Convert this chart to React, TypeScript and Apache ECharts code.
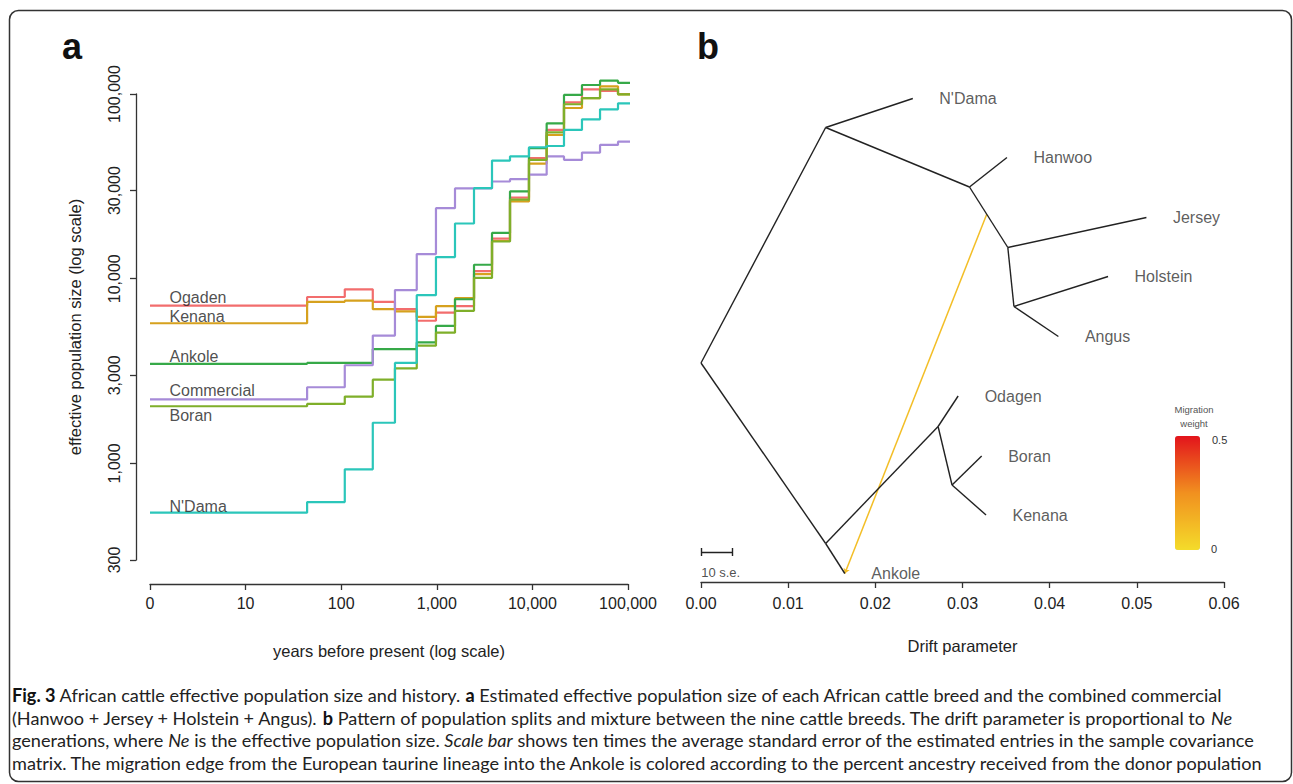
import React, { useEffect, useRef } from "react";
import * as echarts from "echarts";

const W = 1293;
const H = 784;
const FONT = "Liberation Sans, Arial, Helvetica, sans-serif";
const CAP_FONT = "Lato, 'Noto Sans', sans-serif";

// ---------- Panel a : effective population size ----------
// interval boundaries (years before present)
const yearBreaks = [0, 44, 109, 214, 365, 617, 980, 1550, 2450, 3780, 5830, 9210, 14100, 21400, 33000, 51000, 78600, 112000];
const breedNames = ["Ogaden", "Kenana", "Ankole", "Commercial", "Boran", "N'Dama"];
const ogadenNe = [7150, 7960, 8760, 7500, 6840, 5920, 6560, 7100, 11000, 16500, 27500, 45000, 64000, 90000, 106000, 104000, 100000];
const kenanaNe = [5740, 7500, 7600, 6840, 6650, 6210, 7100, 7850, 10600, 16000, 26200, 42000, 60000, 84000, 95000, 110000, 99600];
const ankoleNe = [3460, 3500, 3500, 4160, 4160, 4520, 5550, 7740, 11900, 17700, 29700, 50900, 69300, 98800, 111900, 118000, 115000];
const commercialNe = [2220, 2585, 3400, 4920, 8680, 13600, 24100, 30800, 30800, 33600, 34600, 36600, 45900, 44000, 48200, 53000, 55200];
const boranNe = [2040, 2100, 2300, 2840, 3270, 4340, 5100, 6700, 10100, 15900, 26800, 44000, 62000, 88000, 95000, 106000, 99600];
const ndamaNe = [541, 618, 929, 1660, 3500, 8140, 13100, 19900, 30900, 43600, 45900, 51500, 52300, 63900, 72900, 82600, 89000];
const breedValues = [ogadenNe, kenanaNe, ankoleNe, commercialNe, boranNe, ndamaNe];
const breedColors = ["#F26D6D", "#D6A11E", "#36A948", "#A68BD8", "#7FAF2A", "#2BC6BA"];
const breedLabelDy = [-8, -7, -7, -9, 9, -6];

const xTickValues = [1, 10, 100, 1000, 10000, 100000];
const xTickLabels = ["0", "10", "100", "1,000", "10,000", "100,000"];
const yTickValues = [300, 1000, 3000, 10000, 30000, 100000];
const yTickLabels = ["300", "1,000", "3,000", "10,000", "30,000", "100,000"];

// ---------- Panel b : population tree ----------
const nodeNames = ["root", "nA", "N'Dama", "nB", "Hanwoo", "nC", "Jersey", "nD", "Holstein", "Angus", "nE", "Ankole", "nF", "Odagen", "nG", "Boran", "Kenana"];
const nodeDrift = [0.0, 0.0143, 0.0243, 0.0308, 0.0351, 0.0352, 0.0511, 0.0359, 0.0467, 0.041, 0.0143, 0.0165, 0.0272, 0.0295, 0.0288, 0.0322, 0.0327];
const nodePos = [4.38, 9.09, 9.67, 7.9, 8.49, 6.69, 7.29, 5.51, 6.11, 4.91, 0.77, 0.17, 3.11, 3.72, 1.94, 2.52, 1.34];
const edgeParent = ["root", "nA", "nA", "nB", "nB", "nC", "nC", "nD", "nD", "root", "nE", "nE", "nF", "nF", "nG", "nG"];
const edgeChild = ["nA", "N'Dama", "nB", "Hanwoo", "nC", "Jersey", "nD", "Holstein", "Angus", "nE", "Ankole", "nF", "Odagen", "nG", "Boran", "Kenana"];
const tipNames = ["N'Dama", "Hanwoo", "Jersey", "Holstein", "Angus", "Odagen", "Boran", "Kenana", "Ankole"];
// migration edge: from a point on edge nB -> nC (fraction along edge) into Ankole
const migrationFromEdge = ["nB", "nC"];
const migrationFraction = 0.45;
const migrationTo = "Ankole";
const migrationWeight = 0.1;
const migrationMax = 0.5;
const migrationColors = ["#F4DC2A", "#F1901F", "#E3141C"];
const scaleBarLength = 0.0036; // 10 s.e.
const scaleBarPos = 0.6;

// ---------- caption ----------
type Seg = { t: string; b?: boolean; i?: boolean };
const captionLines: Seg[][] = [
  [
    { t: "Fig. 3", b: true },
    { t: " African cattle effective population size and history. " },
    { t: "a", b: true },
    { t: " Estimated effective population size of each African cattle breed and the combined commercial" },
  ],
  [
    { t: "(Hanwoo + Jersey + Holstein + Angus). " },
    { t: "b", b: true },
    { t: " Pattern of population splits and mixture between the nine cattle breeds. The drift parameter is proportional to " },
    { t: "Ne", i: true },
  ],
  [
    { t: "generations, where " },
    { t: "Ne", i: true },
    { t: " is the effective population size. " },
    { t: "Scale bar", i: true },
    { t: " shows ten times the average standard error of the estimated entries in the sample covariance" },
  ],
  [
    {
      t: "matrix. The migration edge from the European taurine lineage into the Ankole is colored according to the percent ancestry received from the donor population",
    },
  ],
];
const captionTargetWidths = [1217, 1215, 1239, 1255];
const captionLineY = [695, 718, 740, 763];

function buildOption() {
  // ---- panel a series
  const stepSeries = breedValues.map((vals, k) => {
    const pts: number[][] = vals.map((v, i) => [Math.max(1, yearBreaks[i]), v]);
    pts.push([yearBreaks[vals.length], vals[vals.length - 1]]);
    return {
      type: "line",
      name: breedNames[k],
      xAxisIndex: 0,
      yAxisIndex: 0,
      data: pts,
      step: "end",
      showSymbol: false,
      symbol: "none",
      clip: false,
      lineStyle: { color: breedColors[k], width: 2.2 },
      itemStyle: { color: breedColors[k] },
      z: 2 + k,
    };
  });
  const labelSeries = {
    type: "scatter",
    xAxisIndex: 0,
    yAxisIndex: 0,
    symbolSize: 1,
    itemStyle: { color: "rgba(0,0,0,0)" },
    silent: true,
    z: 20,
    data: breedValues.map((vals, k) => ({
      name: breedNames[k],
      value: [1, vals[0]],
      label: {
        show: true,
        position: "right",
        distance: 19,
        offset: [0, breedLabelDy[k]],
        formatter: breedNames[k],
        color: "#222",
        fontSize: 16,
        fontFamily: FONT,
      },
    })),
  };

  // ---- panel b series
  const idx = (n: string) => nodeNames.indexOf(n);
  const pt = (n: string) => [nodeDrift[idx(n)], nodePos[idx(n)]];
  const treeSeries = {
    type: "lines",
    coordinateSystem: "cartesian2d",
    xAxisIndex: 1,
    yAxisIndex: 1,
    silent: true,
    lineStyle: { color: "#222", width: 1.4, opacity: 1 },
    data: edgeParent.map((p, i) => ({ coords: [pt(p), pt(edgeChild[i])] })),
    z: 3,
  };
  const a = pt(migrationFromEdge[0]);
  const b = pt(migrationFromEdge[1]);
  const migFrom = [a[0] + (b[0] - a[0]) * migrationFraction, a[1] + (b[1] - a[1]) * migrationFraction];
  const migColor = echarts.color.lerp(migrationWeight / migrationMax, migrationColors);
  const migrationSeries = {
    type: "lines",
    coordinateSystem: "cartesian2d",
    xAxisIndex: 1,
    yAxisIndex: 1,
    silent: true,
    symbol: ["none", "arrow"],
    symbolSize: 5,
    lineStyle: { color: migColor, width: 1.5, opacity: 1 },
    data: [{ coords: [migFrom, pt(migrationTo)] }],
    z: 2,
  };
  const tick = 0.08;
  const scaleBarSeries = {
    type: "lines",
    coordinateSystem: "cartesian2d",
    xAxisIndex: 1,
    yAxisIndex: 1,
    silent: true,
    lineStyle: { color: "#222", width: 1.4, opacity: 1 },
    data: [
      { coords: [[0, scaleBarPos], [scaleBarLength, scaleBarPos]] },
      { coords: [[0, scaleBarPos - tick], [0, scaleBarPos + tick]] },
      { coords: [[scaleBarLength, scaleBarPos - tick], [scaleBarLength, scaleBarPos + tick]] },
    ],
  };
  const scaleBarLabel = {
    type: "scatter",
    xAxisIndex: 1,
    yAxisIndex: 1,
    symbolSize: 1,
    itemStyle: { color: "rgba(0,0,0,0)" },
    silent: true,
    data: [
      {
        value: [scaleBarLength / 2, scaleBarPos],
        label: { show: true, position: "bottom", distance: 13, offset: [4, 0], formatter: "10 s.e.", color: "#222", fontSize: 13, fontFamily: FONT },
      },
    ],
  };
  const tipSeries = {
    type: "scatter",
    xAxisIndex: 1,
    yAxisIndex: 1,
    symbolSize: 1,
    itemStyle: { color: "rgba(0,0,0,0)" },
    silent: true,
    data: tipNames.map((n) => ({
      name: n,
      value: pt(n),
      label: { show: true, position: "right", distance: 26, formatter: n, color: "#333", fontSize: 16, fontFamily: FONT },
    })),
  };
  const dummySeries = { type: "scatter", xAxisIndex: 1, yAxisIndex: 1, data: [] as number[][] };

  const series = [...stepSeries, labelSeries, treeSeries, migrationSeries, scaleBarSeries, scaleBarLabel, tipSeries, dummySeries];

  // ---- caption fitting
  const ctx = document.createElement("canvas").getContext("2d")!;
  const fontStr = (s: Seg, size: number) => `${s.i ? "italic " : ""}${s.b ? "bold " : ""}${size}px ${CAP_FONT}`;
  let ratioSum = 0;
  captionLines.forEach((segs, li) => {
    let w = 0;
    segs.forEach((s) => {
      ctx.font = fontStr(s, 100);
      w += ctx.measureText(s.t).width;
    });
    ratioSum += captionTargetWidths[li] / w;
  });
  const capSize = Math.min(22, Math.max(14, (100 * ratioSum) / captionLines.length));
  const rich = {
    n: { fontFamily: CAP_FONT, fontSize: capSize, fill: "#222", color: "#222" },
    b: { fontFamily: CAP_FONT, fontSize: capSize, fontWeight: "bold", fill: "#111", color: "#111" },
    i: { fontFamily: CAP_FONT, fontSize: capSize, fontStyle: "italic", fill: "#222", color: "#222" },
  };
  const captionGraphics = captionLines.map((segs, li) => ({
    type: "text",
    x: 12,
    y: captionLineY[li],
    style: {
      text: segs.map((s) => `{${s.b ? "b" : s.i ? "i" : "n"}|${s.t}}`).join(""),
      rich,
      verticalAlign: "middle",
      align: "left",
      fontFamily: CAP_FONT,
      fontSize: capSize,
      fill: "#222",
    },
  }));

  const axisLine = { show: true, lineStyle: { color: "#333", width: 1.3 } };
  const axisTick = { show: true, length: 6, lineStyle: { color: "#333", width: 1.3 } };

  return {
    animation: false,
    backgroundColor: "#fff",
    textStyle: { fontFamily: FONT },
    grid: [
      { left: 150, right: W - 628, top: 94, bottom: H - 560 },
      { left: 701, right: W - 1224, top: 82, bottom: H - 582 },
    ],
    xAxis: [
      {
        type: "log",
        gridIndex: 0,
        min: 1,
        max: 100000,
        logBase: 10,
        offset: 24,
        axisLine,
        axisTick,
        splitLine: { show: false },
        axisLabel: {
          color: "#222",
          fontSize: 16,
          margin: 11,
          fontFamily: FONT,
          formatter: (v: number) => xTickLabels[xTickValues.indexOf(Math.round(v))] ?? "",
        },
        name: "years before present (log scale)",
        nameLocation: "middle",
        nameGap: 58,
        nameTextStyle: { color: "#222", fontSize: 16.5, fontFamily: FONT },
      },
      {
        type: "value",
        gridIndex: 1,
        min: 0,
        max: 0.06,
        interval: 0.01,
        offset: 2,
        axisLine,
        axisTick,
        splitLine: { show: false },
        axisLabel: {
          color: "#222",
          fontSize: 16,
          margin: 11,
          fontFamily: FONT,
          formatter: (v: number) => v.toFixed(2),
        },
        name: "Drift parameter",
        nameLocation: "middle",
        nameGap: 53,
        nameTextStyle: { color: "#222", fontSize: 16.5, fontFamily: FONT },
      },
    ],
    yAxis: [
      {
        type: "log",
        gridIndex: 0,
        min: 300,
        max: 100000,
        logBase: 10,
        offset: 14,
        axisLine,
        axisTick: { ...axisTick, customValues: yTickValues },
        splitLine: { show: false },
        axisLabel: {
          customValues: yTickValues,
          rotate: 90,
          color: "#222",
          fontSize: 16,
          margin: 14,
          fontFamily: FONT,
          align: "center",
          verticalAlign: "bottom",
          formatter: (v: number) => yTickLabels[yTickValues.indexOf(Math.round(v))] ?? "",
        },
        name: "effective population size (log scale)",
        nameLocation: "middle",
        nameRotate: 90,
        nameGap: 53,
        nameTextStyle: { color: "#222", fontSize: 16.5, fontFamily: FONT },
      },
      { type: "value", gridIndex: 1, min: 0, max: 10, show: false },
    ],
    visualMap: {
      type: "continuous",
      min: 0,
      max: migrationMax,
      orient: "vertical",
      left: 1160,
      top: 421,
      itemWidth: 25,
      itemHeight: 114,
      calculable: false,
      seriesIndex: series.length - 1,
      inRange: { color: migrationColors },
      textStyle: { color: "#333" },
    },
    graphic: [
      {
        type: "rect",
        shape: { x: 9.5, y: 10.5, width: 1282, height: 771, r: 9 },
        style: { fill: "none", stroke: "#333", lineWidth: 1.5 },
        silent: true,
      },
      { type: "text", x: 62, y: 46, style: { text: "a", fontFamily: FONT, fontWeight: "bold", fontSize: 36, fill: "#111", verticalAlign: "middle" } },
      { type: "text", x: 697, y: 46, style: { text: "b", fontFamily: FONT, fontWeight: "bold", fontSize: 36, fill: "#111", verticalAlign: "middle" } },
      { type: "text", x: 1194, y: 409, style: { text: "Migration", fontFamily: FONT, fontSize: 9.5, fill: "#555", align: "center", verticalAlign: "middle" } },
      { type: "text", x: 1194, y: 423, style: { text: "weight", fontFamily: FONT, fontSize: 9.5, fill: "#555", align: "center", verticalAlign: "middle" } },
      { type: "text", x: 1212, y: 440, style: { text: String(migrationMax), fontFamily: FONT, fontSize: 11, fill: "#333", verticalAlign: "middle" } },
      { type: "text", x: 1211, y: 549, style: { text: "0", fontFamily: FONT, fontSize: 11, fill: "#333", verticalAlign: "middle" } },
      ...captionGraphics,
    ],
    series,
  };
}

export default function App() {
  const ref = useRef<HTMLDivElement>(null);
  useEffect(() => {
    document.body.style.margin = "0";
    const chart = echarts.init(ref.current!, null, { renderer: "svg", width: W, height: H });
    chart.setOption(buildOption() as any);
    return () => chart.dispose();
  }, []);
  return <div ref={ref} style={{ width: W, height: H }} />;
}
